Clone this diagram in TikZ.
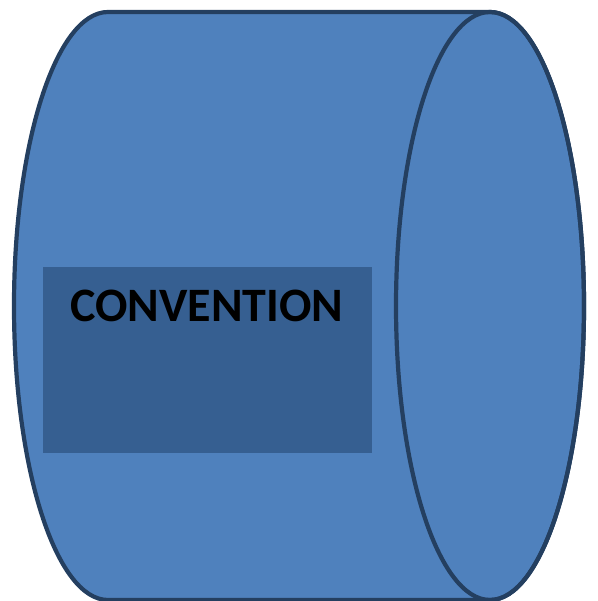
\documentclass[tikz,border=0pt]{standalone}
\usepackage{fontspec}
\setmainfont{Carlito}
\definecolor{canfill}{HTML}{4F81BD}
\definecolor{canline}{HTML}{243F60}
\definecolor{boxfill}{HTML}{365F91}
\tikzset{
  canbody/.style={fill=canfill, draw=canline, line width=4.2pt, line join=round},
  labelbox/.style={fill=boxfill, draw=none, minimum width=329pt, minimum height=186pt, inner sep=0pt},
  labeltext/.style={font=\bfseries\fontsize{48}{54}\selectfont, text=black, inner sep=0pt}
}
\begin{document}
\begin{tikzpicture}[x=1pt,y=1pt]
\useasboundingbox (0,0) rectangle (597,601);
\begin{scope}
\clip (0,0) rectangle (597,601);
\path[canbody] (108,589) -- (490,589)
  arc[start angle=90, end angle=-90, x radius=94, y radius=294]
  -- (108,1)
  arc[start angle=270, end angle=90, x radius=94, y radius=294] -- cycle;
\draw[canbody, fill=none] (490,295) ellipse[x radius=94, y radius=294];
\end{scope}
\node[labelbox] (box) at (207.5,241) {};
\node[labeltext, anchor=base] (title) at (207,279) {CONVENTION};
\end{tikzpicture}
\end{document}
